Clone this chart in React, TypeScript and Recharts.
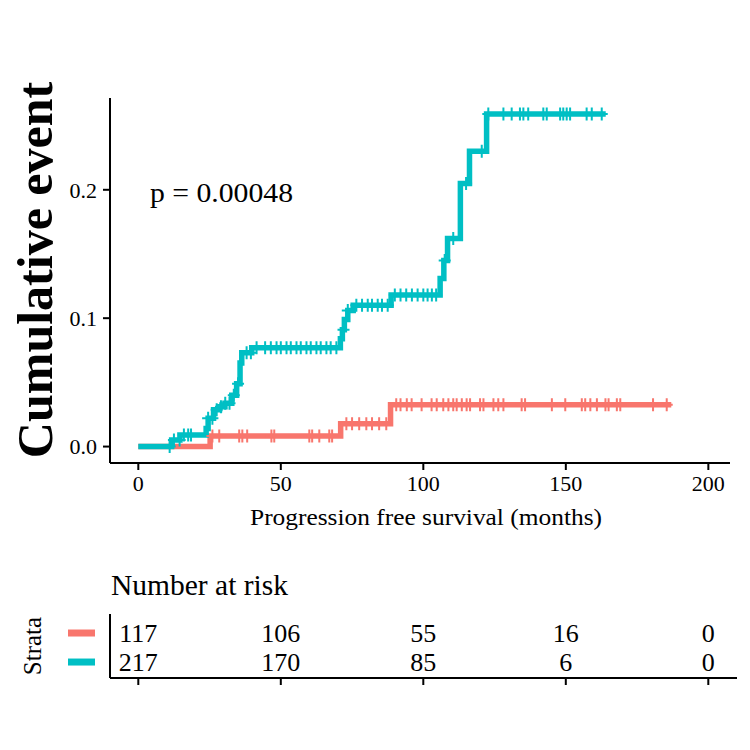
import React from "react";
import { ComposedChart, Line, Scatter, ScatterChart, XAxis, YAxis } from "recharts";

const SALMON = "#F8766D";
const TEAL = "#00BFC4";
const FONT = "'Liberation Serif', 'Times New Roman', serif";

// step curves (time in months, cumulative event)
const lowTimes = [0, 25.2, 71, 88.5, 187];
const lowCum = [0, 0.0082, 0.0178, 0.0325, 0.0325];

const highTimes = [
  0, 11.7, 14.6, 23.8, 24.5, 26.4, 28.5, 30.4, 32.8, 34.5, 35.7, 36.3, 39.8, 70.9, 71.6, 72.3, 73.5,
  75.4, 88.7, 105.9, 107.2, 108.5, 113, 116.2, 122.2, 164,
];
const highCum = [
  0, 0.0052, 0.0091, 0.014, 0.022, 0.0286, 0.031, 0.0338, 0.04, 0.049, 0.065, 0.073, 0.077, 0.084, 0.091,
  0.099, 0.106, 0.11, 0.118, 0.131, 0.145, 0.162, 0.205, 0.23, 0.259, 0.259,
];

// censored times
const lowCensor = [
  26, 28.4, 35.4, 36.5, 38.2, 46.7, 47.7, 60, 61, 63.5, 67, 68, 73, 75, 77.5, 80, 82, 84.5, 87, 90.5, 92,
  94.2, 95.9, 99.4, 102.9, 104.7, 107, 108.8, 110.5, 111.7, 113.5, 115.2, 116.4, 119.9, 121.1, 124.6,
  126.3, 128.1, 134.5, 135.7, 145.1, 149.8, 155.6, 156.8, 158.6, 160.9, 163.9, 165, 167.9, 169.1, 180.6,
  185.4,
];
const highCensor = [
  11, 12.5, 14.5, 16, 17.5, 18.5, 24.5, 26, 27.5, 29, 30.5, 32, 33.5, 35, 38, 39.5, 41.5, 44.5, 46.5,
  48.5, 50, 52, 53.5, 55.5, 57, 59, 60.5, 62.5, 64, 66, 67.5, 69.5, 72, 73.5, 76.5, 78.5, 80.5, 82, 84,
  85.5, 87.5, 90, 92, 94, 96, 98, 100, 101.5, 103, 104.5, 107.5, 110.5, 115, 120.5, 122.8, 128.1, 131,
  133.9, 135.1, 136.8, 142.1, 143.3, 148, 149.1, 150.3, 151.5, 157.3, 159.1, 162.6,
];

// number at risk
const riskTimes = [0, 50, 100, 150, 200];
const riskLow = [117, 106, 55, 16, 0];
const riskHigh = [217, 170, 85, 6, 0];

const xTicks = [0, 50, 100, 150, 200];
const yTicks = [0, 0.1, 0.2];

const toSteps = (times: number[], vals: number[]) => times.map((t, i) => ({ t, y: vals[i] }));

const stepAt = (times: number[], vals: number[], t: number) => {
  let v = vals[0];
  for (let i = 0; i < times.length; i++) if (times[i] <= t) v = vals[i];
  return v;
};

const toCensor = (cens: number[], times: number[], vals: number[]) =>
  cens.map((t) => ({ t, y: stepAt(times, vals, t) }));

const lowData = toSteps(lowTimes, lowCum);
const highData = toSteps(highTimes, highCum);
const lowMarks = toCensor(lowCensor, lowTimes, lowCum);
const highMarks = toCensor(highCensor, highTimes, highCum);

const riskRows = (counts: number[], row: number) => riskTimes.map((t, i) => ({ t, row, n: counts[i] }));

const plus = (color: string) => (p: any) =>
  (
    <path
      d={`M${p.cx - 6},${p.cy}H${p.cx + 6}M${p.cx},${p.cy - 6.5}V${p.cy + 6.5}`}
      stroke={color}
      strokeWidth={2}
      fill="none"
    />
  );

const riskText = (p: any) => (
  <text x={p.cx} y={p.cy} textAnchor="middle" dominantBaseline="central" fontSize={26} fill="#000" fontFamily={FONT}>
    {p.payload.n}
  </text>
);

const strataTick = (p: any) => (
  <rect x={68} y={p.y - 3.5} width={27} height={7} fill={p.payload.value === 1 ? SALMON : TEAL} />
);

const tickStyle = { fontSize: 22, fill: "#000", fontFamily: FONT };
const axisLine = { stroke: "#000", strokeWidth: 2 };

export default function App() {
  return (
    <div style={{ position: "absolute", left: 0, top: 0, width: 750, height: 750, background: "#fff", fontFamily: FONT }}>
      <div style={{ position: "absolute", left: 0, top: 0 }}>
        <ComposedChart width={750} height={540} margin={{ top: 98, right: 20, bottom: 0, left: 0 }}>
          <XAxis
            type="number"
            dataKey="t"
            domain={[-9.93, 207.6]}
            allowDataOverflow
            ticks={xTicks}
            tick={tickStyle}
            tickSize={7}
            tickMargin={5}
            axisLine={axisLine}
            tickLine={axisLine}
            height={77}
            label={() => (
              <text
                x={426}
                y={525}
                textAnchor="middle"
                fontSize={24}
                textLength={352}
                lengthAdjust="spacingAndGlyphs"
                fill="#000"
                fontFamily={FONT}
              >
                Progression free survival (months)
              </text>
            )}
          />
          <YAxis
            type="number"
            dataKey="y"
            domain={[-0.0128, 0.2715]}
            allowDataOverflow
            ticks={yTicks}
            tickFormatter={(v: number) => v.toFixed(1)}
            tick={tickStyle}
            tickSize={7}
            tickMargin={6}
            axisLine={axisLine}
            tickLine={axisLine}
            width={110}
            label={() => (
              <text
                x={52}
                y={270}
                transform="rotate(-90, 52, 270)"
                textAnchor="middle"
                fontSize={50}
                fontWeight="bold"
                fill="#000"
                fontFamily={FONT}
              >
                Cumulative event
              </text>
            )}
          />
          <Line data={lowData} dataKey="y" type="stepAfter" stroke={SALMON} strokeWidth={5.5} dot={false} isAnimationActive={false} />
          <Line data={highData} dataKey="y" type="stepAfter" stroke={TEAL} strokeWidth={5.5} dot={false} isAnimationActive={false} />
          <Scatter data={lowMarks} dataKey="y" shape={plus(SALMON)} isAnimationActive={false} />
          <Scatter data={highMarks} dataKey="y" shape={plus(TEAL)} isAnimationActive={false} />
        </ComposedChart>
      </div>

      <div style={{ position: "absolute", left: 0, top: 540 }}>
        <ScatterChart width={750} height={210} margin={{ top: 74, right: 13, bottom: 0, left: 0 }}>
          <XAxis
            type="number"
            dataKey="t"
            domain={[-9.93, 210.07]}
            allowDataOverflow
            ticks={xTicks}
            tick={() => <g />}
            tickSize={7}
            axisLine={axisLine}
            tickLine={axisLine}
            height={72}
          />
          <YAxis
            type="number"
            dataKey="row"
            domain={[0.345, 2.55]}
            reversed
            allowDataOverflow
            ticks={[1, 2]}
            tick={strataTick}
            tickLine={false}
            axisLine={axisLine}
            width={110}
            label={() => (
              <text
                x={41}
                y={106}
                transform="rotate(-90, 41, 106)"
                textAnchor="middle"
                fontSize={25}
                fill="#000"
                fontFamily={FONT}
              >
                Strata
              </text>
            )}
          />
          <Scatter data={riskRows(riskLow, 1)} shape={riskText} isAnimationActive={false} />
          <Scatter data={riskRows(riskHigh, 2)} shape={riskText} isAnimationActive={false} />
        </ScatterChart>
      </div>

      <svg width={750} height={750} style={{ position: "absolute", left: 0, top: 0, pointerEvents: "none" }}>
        <text x={150} y={202} fontSize={27} textLength={143} lengthAdjust="spacingAndGlyphs" fill="#000" fontFamily={FONT}>
          p = 0.00048
        </text>
        <text x={111} y={595} fontSize={29.5} fill="#000" fontFamily={FONT}>
          Number at risk
        </text>
      </svg>
    </div>
  );
}
